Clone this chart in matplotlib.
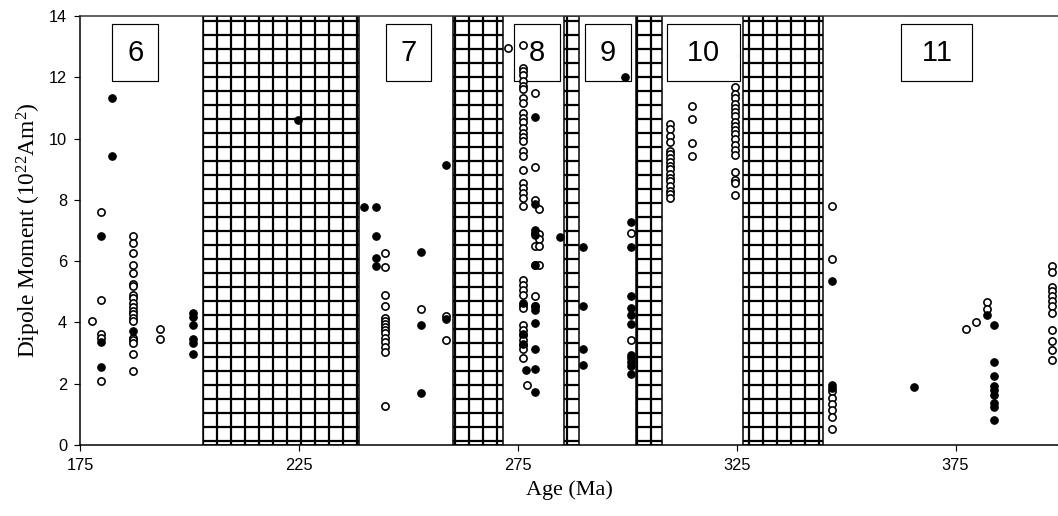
import matplotlib
matplotlib.use("Agg")
import matplotlib.pyplot as plt
import numpy as np

plt.rcParams['font.family'] = ['Liberation Sans', 'DejaVu Sans']
plt.rcParams['mathtext.fontset'] = 'custom'
plt.rcParams['mathtext.rm'] = 'Liberation Serif'
plt.rcParams['mathtext.it'] = 'Liberation Serif:italic'
plt.rcParams['hatch.linewidth'] = 1.9
plt.rcParams['hatch.color'] = '#444444'

# superchron / gap intervals (Ma)
gap_start = [203.2, 260.1, 285.5, 302.1, 326.5]
gap_end = [238.7, 271.6, 288.9, 308.0, 344.8]

# interval labels and where they sit
period_labels = ['6', '7', '8', '9', '10', '11']
period_pos = [187.6, 250.1, 279.4, 295.6, 317.4, 370.7]

# open symbols: age of each column and the dipole moments in it
open_ages = [177.7, 179.7, 187.2, 193.3, 244.6, 252.9, 258.6, 272.8, 276.1,
             277.2, 278.9, 279.9, 300.9, 309.7, 314.8, 324.7, 346.8, 377.3,
             379.6, 382.2, 397.1]
open_dm = [
    [4.06],
    [7.6, 4.72, 3.62, 3.5, 2.10],
    [6.82, 6.6, 6.27, 5.87, 5.6, 5.25, 5.18, 4.9, 4.8, 4.65, 4.5, 4.38, 4.28,
     4.15, 4.05, 3.5, 3.42, 3.33, 2.96, 2.4],
    [3.78, 3.46],
    [6.26, 5.80, 4.90, 4.54, 4.15, 4.05, 3.95, 3.85, 3.75, 3.65, 3.5, 3.35,
     3.2, 3.05, 1.28],
    [4.43],
    [4.22, 3.43],
    [12.96],
    [13.04, 12.31, 12.2, 12.06, 11.87, 11.73, 11.62, 11.33, 11.17, 10.84,
     10.68, 10.53, 10.35, 10.19, 10.05, 9.91, 9.58, 9.42, 8.99, 8.55, 8.39,
     8.23, 8.06, 7.79, 5.39, 5.23, 5.07, 4.90, 4.58, 4.47, 3.92, 3.76, 3.59,
     3.43, 3.27, 3.13, 2.83],
    [1.96],
    [11.49, 9.07, 8.0, 6.92, 6.48, 5.88, 4.87, 4.54],
    [7.70, 6.89, 6.72, 6.48, 5.88],
    [6.92, 3.43],
    [10.46, 10.3, 10.1, 9.9, 9.6, 9.5, 9.35, 9.25, 9.12, 9.0, 8.85, 8.7, 8.6,
     8.45, 8.3, 8.2, 8.05],
    [11.06, 10.65, 9.84, 9.44],
    [11.68, 11.46, 11.31, 11.13, 11.0, 10.86, 10.73, 10.55, 10.41, 10.27,
     10.14, 9.97, 9.79, 9.62, 9.45, 8.91, 8.66, 8.55, 8.15],
    [7.79, 6.08, 1.75, 1.55, 1.35, 1.15, 0.92, 0.52],
    [3.78],
    [4.03],
    [4.68, 4.43],
    [5.83, 5.63, 5.17, 5.02, 4.85, 4.7, 4.55, 4.32, 3.76, 3.38, 3.1, 2.78],
]

# filled symbols
filled_ages = [179.7, 182.2, 187.2, 200.9, 224.8, 239.9, 242.7, 252.9, 258.6,
               276.3, 276.8, 278.9, 284.6, 289.9, 299.6, 300.9, 346.8, 365.6,
               382.2, 383.7]
filled_dm = [
    [6.81, 3.35, 2.53],
    [11.33, 9.42],
    [3.72],
    [4.3, 4.17, 3.93, 3.47, 3.32, 2.96],
    [10.59],
    [7.78],
    [7.78, 6.81, 6.10, 5.83],
    [6.30, 3.90, 1.69],
    [9.15, 4.12],
    [4.62, 3.62, 3.3],
    [2.45],
    [10.70, 7.88, 7.03, 6.86, 5.88, 4.52, 4.39, 3.98, 3.14, 2.48, 1.74],
    [6.78],
    [6.45, 4.54, 3.14, 2.61],
    [12.0],
    [7.27, 6.45, 4.85, 4.47, 4.25, 3.95, 2.94, 2.83, 2.70, 2.58, 2.31],
    [5.34, 1.95, 1.85],
    [1.89],
    [4.23],
    [3.92, 2.72, 2.25, 1.93, 1.8, 1.63, 1.36, 1.23, 0.82],
]


def flatten(ages, vals):
    x, y = [], []
    for a, col in zip(ages, vals):
        x += [a] * len(col)
        y += col
    return x, y


dpi = 84
fig = plt.figure(figsize=(1058 / dpi, 516 / dpi), dpi=dpi)
ax = fig.add_axes([80 / 1058, 71 / 516, 978 / 1058, 429 / 516])

for s, e in zip(gap_start, gap_end):
    ax.axvspan(s, e, facecolor='white', edgecolor='black', hatch='+',
               linewidth=1.3, zorder=1)

for lab, pos in zip(period_labels, period_pos):
    txt = lab if len(lab) == 1 else '\u2009' + lab + '\u2009'
    ax.text(pos, 12.8, txt, fontsize=25, ha='center', va='center',
            zorder=2,
            bbox=dict(boxstyle='square,pad=0.5', facecolor='white',
                      edgecolor='black', linewidth=1.0))

ox, oy = flatten(open_ages, open_dm)
fx, fy = flatten(filled_ages, filled_dm)
ax.plot(ox, oy, 'o', ms=6.2, mfc='white', mec='black', mew=1.4,
        linestyle='none', zorder=4)
ax.plot(fx, fy, 'o', ms=6.4, mfc='black', mec='black', mew=1.0,
        linestyle='none', zorder=4)

ax.set_xlim(175, 398.4)
ax.set_ylim(0, 14)
ax.set_xticks([175, 225, 275, 325, 375])
ax.set_yticks(range(0, 15, 2))
ax.tick_params(direction='out', length=5, width=1, labelsize=14, pad=6)
ax.spines['right'].set_visible(False)
for sp in ['left', 'bottom', 'top']:
    ax.spines[sp].set_linewidth(1.3)
ax.spines['top'].set_color('#333333')

ax.set_xlabel('Age (Ma)', fontsize=19, family='Liberation Serif', labelpad=6)
ax.set_ylabel('Dipole Moment (10$^{22}$Am$^{2}$)', fontsize=20,
              family='Liberation Serif', labelpad=5)

fig.savefig('out.png', dpi=dpi, facecolor='white')
